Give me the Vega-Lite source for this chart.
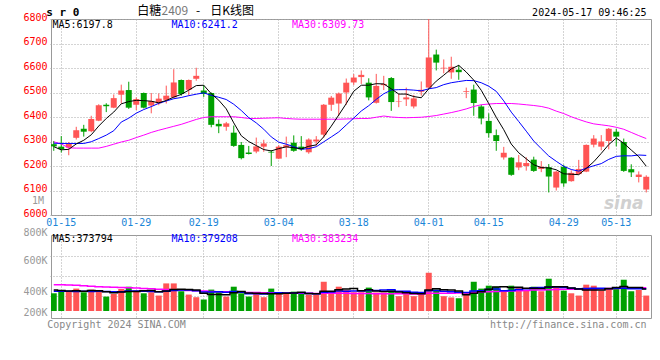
{
  "$schema": "https://vega.github.io/schema/vega-lite/v6.json",
  "background": "white",
  "padding": {"left": 22, "top": 4, "right": 0, "bottom": 0},
  "config": {
    "view": {"stroke": "#999999", "strokeWidth": 1},
    "text": {"font": "DejaVu Sans Mono", "fontSize": 10, "baseline": "middle"}
  },
  "datasets": {
    "k": [
      {"d":"2024-01-12","o":6289,"c":6280,"h":6302,"l":6262,"v":340000,"m5":6279,"m10":6293,"m30":6299,"vm5":366000,"vm10":356000,"vm30":408000},
      {"d":"2024-01-15","o":6279,"c":6269,"h":6322,"l":6255,"v":361000,"m5":6266,"m10":6292,"m30":6290,"vm5":362000,"vm10":357000,"vm30":408000},
      {"d":"2024-01-16","o":6275,"c":6290,"h":6298,"l":6244,"v":356000,"m5":6268,"m10":6292,"m30":6274,"vm5":358000,"vm10":356000,"vm30":406000},
      {"d":"2024-01-17","o":6315,"c":6346,"h":6360,"l":6308,"v":377000,"m5":6290,"m10":6292,"m30":6273,"vm5":360000,"vm10":355000,"vm30":404000},
      {"d":"2024-01-18","o":6352,"c":6340,"h":6368,"l":6320,"v":348000,"m5":6305,"m10":6292,"m30":6273,"vm5":356000,"vm10":356000,"vm30":400000},
      {"d":"2024-01-19","o":6342,"c":6392,"h":6405,"l":6338,"v":369000,"m5":6327.4,"m10":6299,"m30":6273,"vm5":362000,"vm10":355000,"vm30":396000},
      {"d":"2024-01-22","o":6385,"c":6448,"h":6452,"l":6383,"v":356000,"m5":6363.2,"m10":6312,"m30":6273,"vm5":361000,"vm10":356000,"vm30":392000},
      {"d":"2024-01-23","o":6450,"c":6444,"h":6456,"l":6420,"v":314000,"m5":6394,"m10":6326,"m30":6280,"vm5":353000,"vm10":355000,"vm30":389000},
      {"d":"2024-01-24","o":6438,"c":6477,"h":6492,"l":6436,"v":335000,"m5":6420.2,"m10":6344,"m30":6289,"vm5":344000,"vm10":353000,"vm30":387000},
      {"d":"2024-01-25","o":6491,"c":6508,"h":6532,"l":6455,"v":374000,"m5":6453.8,"m10":6379.4,"m30":6298,"vm5":350000,"vm10":353000,"vm30":386000},
      {"d":"2024-01-26","o":6510,"c":6438,"h":6544,"l":6433,"v":392000,"m5":6463,"m10":6395.2,"m30":6305,"vm5":354000,"vm10":358000,"vm30":384000},
      {"d":"2024-01-29","o":6450,"c":6473,"h":6480,"l":6428,"v":361000,"m5":6468,"m10":6415.6,"m30":6316,"vm5":355000,"vm10":358000,"vm30":381000},
      {"d":"2024-01-30","o":6498,"c":6438,"h":6500,"l":6435,"v":340000,"m5":6466.8,"m10":6430.4,"m30":6326,"vm5":360000,"vm10":357000,"vm30":378000},
      {"d":"2024-01-31","o":6447,"c":6465,"h":6498,"l":6415,"v":348000,"m5":6464.4,"m10":6442.3,"m30":6337,"vm5":363000,"vm10":354000,"vm30":375000},
      {"d":"2024-02-01","o":6456,"c":6475,"h":6496,"l":6448,"v":322000,"m5":6457.8,"m10":6455.8,"m30":6346,"vm5":353000,"vm10":352000,"vm30":372000},
      {"d":"2024-02-02","o":6470,"c":6487,"h":6528,"l":6455,"v":418000,"m5":6467.6,"m10":6465.3,"m30":6354,"vm5":358000,"vm10":356000,"vm30":369000},
      {"d":"2024-02-05","o":6480,"c":6541,"h":6595,"l":6476,"v":418000,"m5":6481.2,"m10":6474.6,"m30":6362,"vm5":369000,"vm10":362000,"vm30":367000},
      {"d":"2024-02-06","o":6551,"c":6494,"h":6553,"l":6487,"v":356000,"m5":6492.4,"m10":6479.6,"m30":6370,"vm5":372000,"vm10":366000,"vm30":365000},
      {"d":"2024-02-07","o":6511,"c":6551,"h":6553,"l":6487,"v":330000,"m5":6509.6,"m10":6487,"m30":6380,"vm5":369000,"vm10":366000,"vm30":363000},
      {"d":"2024-02-08","o":6556,"c":6568,"h":6601,"l":6548,"v":309000,"m5":6528.2,"m10":6493,"m30":6390,"vm5":366000,"vm10":360000,"vm30":361000},
      {"d":"2024-02-19","o":6508,"c":6494,"h":6530,"l":6482,"v":291000,"m5":6529.6,"m10":6498.6,"m30":6398,"vm5":341000,"vm10":350000,"vm30":358000},
      {"d":"2024-02-20","o":6498,"c":6368,"h":6500,"l":6358,"v":369000,"m5":6495,"m10":6488.1,"m30":6401,"vm5":331000,"vm10":350000,"vm30":355000},
      {"d":"2024-02-21","o":6372,"c":6362,"h":6390,"l":6334,"v":356000,"m5":6468.6,"m10":6480.5,"m30":6401,"vm5":331000,"vm10":352000,"vm30":353000},
      {"d":"2024-02-22","o":6360,"c":6374,"h":6380,"l":6344,"v":314000,"m5":6433.2,"m10":6471.4,"m30":6401,"vm5":328000,"vm10":349000,"vm30":352000},
      {"d":"2024-02-23","o":6336,"c":6282,"h":6365,"l":6278,"v":392000,"m5":6376,"m10":6452.1,"m30":6401,"vm5":344000,"vm10":355000,"vm30":350000},
      {"d":"2024-02-26","o":6286,"c":6232,"h":6298,"l":6227,"v":340000,"m5":6323.6,"m10":6426.6,"m30":6398,"vm5":354000,"vm10":348000,"vm30":348000},
      {"d":"2024-02-27","o":6255,"c":6249,"h":6282,"l":6247,"v":314000,"m5":6299.8,"m10":6397.4,"m30":6394,"vm5":343000,"vm10":337000,"vm30":347000},
      {"d":"2024-02-28","o":6259,"c":6280,"h":6316,"l":6252,"v":340000,"m5":6283.4,"m10":6376,"m30":6394,"vm5":340000,"vm10":336000,"vm30":346000},
      {"d":"2024-02-29","o":6279,"c":6292,"h":6307,"l":6258,"v":309000,"m5":6267,"m10":6350.1,"m30":6395,"vm5":339000,"vm10":334000,"vm30":345000},
      {"d":"2024-03-01","o":6258,"c":6255,"h":6265,"l":6200,"v":377000,"m5":6261.6,"m10":6318.8,"m30":6396,"vm5":336000,"vm10":340000,"vm30":344000},
      {"d":"2024-03-04","o":6230,"c":6279,"h":6285,"l":6228,"v":340000,"m5":6271,"m10":6297.3,"m30":6397,"vm5":336000,"vm10":345000,"vm30":343000},
      {"d":"2024-03-05","o":6276,"c":6285,"h":6320,"l":6236,"v":335000,"m5":6278.2,"m10":6289,"m30":6394,"vm5":340000,"vm10":342000,"vm30":342000},
      {"d":"2024-03-06","o":6295,"c":6262,"h":6325,"l":6258,"v":353000,"m5":6274.6,"m10":6279,"m30":6392,"vm5":343000,"vm10":342000,"vm30":341000},
      {"d":"2024-03-07","o":6279,"c":6268,"h":6322,"l":6262,"v":335000,"m5":6269.8,"m10":6268.4,"m30":6391,"vm5":348000,"vm10":344000,"vm30":340000},
      {"d":"2024-03-08","o":6256,"c":6308,"h":6313,"l":6250,"v":330000,"m5":6280.4,"m10":6271,"m30":6391,"vm5":339000,"vm10":338000,"vm30":340000},
      {"d":"2024-03-11","o":6300,"c":6308,"h":6322,"l":6282,"v":330000,"m5":6286.2,"m10":6278.6,"m30":6391,"vm5":337000,"vm10":337000,"vm30":339000},
      {"d":"2024-03-12","o":6328,"c":6450,"h":6453,"l":6316,"v":431000,"m5":6319.2,"m10":6298.7,"m30":6391,"vm5":356000,"vm10":348000,"vm30":340000},
      {"d":"2024-03-13","o":6450,"c":6479,"h":6486,"l":6425,"v":353000,"m5":6362.6,"m10":6318.6,"m30":6391,"vm5":356000,"vm10":350000,"vm30":340000},
      {"d":"2024-03-14","o":6455,"c":6496,"h":6500,"l":6405,"v":392000,"m5":6408.2,"m10":6339,"m30":6391,"vm5":367000,"vm10":358000,"vm30":340000},
      {"d":"2024-03-15","o":6500,"c":6540,"h":6557,"l":6450,"v":366000,"m5":6454.6,"m10":6367.5,"m30":6392,"vm5":374000,"vm10":357000,"vm30":340000},
      {"d":"2024-03-18","o":6541,"c":6561,"h":6575,"l":6530,"v":348000,"m5":6505.2,"m10":6395.7,"m30":6393,"vm5":378000,"vm10":358000,"vm30":339000},
      {"d":"2024-03-19","o":6563,"c":6572,"h":6590,"l":6535,"v":348000,"m5":6529.6,"m10":6424.4,"m30":6394,"vm5":361000,"vm10":359000,"vm30":339000},
      {"d":"2024-03-20","o":6540,"c":6480,"h":6558,"l":6468,"v":385000,"m5":6529.8,"m10":6446.2,"m30":6394,"vm5":368000,"vm10":362000,"vm30":338000},
      {"d":"2024-03-21","o":6458,"c":6527,"h":6576,"l":6455,"v":346000,"m5":6536,"m10":6472.1,"m30":6399,"vm5":359000,"vm10":363000,"vm30":337000},
      {"d":"2024-03-22","o":6530,"c":6535,"h":6568,"l":6510,"v":346000,"m5":6535,"m10":6494.8,"m30":6404,"vm5":355000,"vm10":365000,"vm30":337000},
      {"d":"2024-03-25","o":6559,"c":6461,"h":6563,"l":6425,"v":361000,"m5":6515,"m10":6510.1,"m30":6400,"vm5":357000,"vm10":368000,"vm30":336000},
      {"d":"2024-03-26","o":6463,"c":6465,"h":6495,"l":6440,"v":317000,"m5":6493.6,"m10":6511.6,"m30":6398,"vm5":351000,"vm10":356000,"vm30":336000},
      {"d":"2024-03-27","o":6472,"c":6480,"h":6520,"l":6445,"v":353000,"m5":6493.6,"m10":6511.7,"m30":6397,"vm5":345000,"vm10":357000,"vm30":336000},
      {"d":"2024-03-28","o":6443,"c":6476,"h":6490,"l":6435,"v":317000,"m5":6483.4,"m10":6509.7,"m30":6398,"vm5":339000,"vm10":349000,"vm30":335000},
      {"d":"2024-03-29","o":6503,"c":6511,"h":6545,"l":6487,"v":335000,"m5":6478.6,"m10":6506.8,"m30":6399,"vm5":337000,"vm10":346000,"vm30":335000},
      {"d":"2024-04-01","o":6520,"c":6643,"h":6820,"l":6515,"v":502000,"m5":6515,"m10":6515,"m30":6402,"vm5":365000,"vm10":361000,"vm30":340000},
      {"d":"2024-04-02","o":6655,"c":6622,"h":6675,"l":6590,"v":369000,"m5":6546.4,"m10":6520,"m30":6406,"vm5":375000,"vm10":363000,"vm30":341000},
      {"d":"2024-04-03","o":6598,"c":6601,"h":6635,"l":6578,"v":317000,"m5":6570.6,"m10":6532.1,"m30":6412,"vm5":368000,"vm10":357000,"vm30":341000},
      {"d":"2024-04-08","o":6582,"c":6605,"h":6646,"l":6556,"v":307000,"m5":6596.4,"m10":6539.9,"m30":6418,"vm5":366000,"vm10":353000,"vm30":341000},
      {"d":"2024-04-09","o":6593,"c":6583,"h":6612,"l":6552,"v":301000,"m5":6610.8,"m10":6544.7,"m30":6425,"vm5":359000,"vm10":348000,"vm30":342000},
      {"d":"2024-04-10","o":6503,"c":6506,"h":6520,"l":6477,"v":346000,"m5":6583.4,"m10":6549.2,"m30":6433,"vm5":328000,"vm10":347000,"vm30":345000},
      {"d":"2024-04-11","o":6512,"c":6457,"h":6532,"l":6405,"v":431000,"m5":6550.4,"m10":6548.4,"m30":6443,"vm5":340000,"vm10":358000,"vm30":349000},
      {"d":"2024-04-12","o":6443,"c":6394,"h":6450,"l":6370,"v":377000,"m5":6509,"m10":6539.8,"m30":6450,"vm5":352000,"vm10":360000,"vm30":350000},
      {"d":"2024-04-15","o":6384,"c":6334,"h":6415,"l":6316,"v":400000,"m5":6454.8,"m10":6525.6,"m30":6453,"vm5":371000,"vm10":369000,"vm30":352000},
      {"d":"2024-04-16","o":6326,"c":6302,"h":6349,"l":6262,"v":392000,"m5":6398.6,"m10":6504.7,"m30":6455,"vm5":389000,"vm10":374000,"vm30":354000},
      {"d":"2024-04-17","o":6235,"c":6254,"h":6278,"l":6226,"v":361000,"m5":6348.2,"m10":6465.8,"m30":6455,"vm5":392000,"vm10":360000,"vm30":356000},
      {"d":"2024-04-18","o":6234,"c":6164,"h":6236,"l":6160,"v":400000,"m5":6289.6,"m10":6420,"m30":6455,"vm5":386000,"vm10":363000,"vm30":358000},
      {"d":"2024-04-19","o":6194,"c":6215,"h":6245,"l":6183,"v":382000,"m5":6253.8,"m10":6381.4,"m30":6453,"vm5":387000,"vm10":370000,"vm30":360000},
      {"d":"2024-04-22","o":6200,"c":6212,"h":6236,"l":6181,"v":361000,"m5":6229.4,"m10":6342.1,"m30":6450,"vm5":379000,"vm10":375000,"vm30":362000},
      {"d":"2024-04-23","o":6226,"c":6180,"h":6238,"l":6176,"v":392000,"m5":6205,"m10":6301.8,"m30":6447,"vm5":379000,"vm10":384000,"vm30":365000},
      {"d":"2024-04-24","o":6188,"c":6197,"h":6220,"l":6175,"v":356000,"m5":6193.6,"m10":6270.9,"m30":6443,"vm5":378000,"vm10":385000,"vm30":366000},
      {"d":"2024-04-25","o":6195,"c":6157,"h":6208,"l":6092,"v":455000,"m5":6192.2,"m10":6240.9,"m30":6436,"vm5":389000,"vm10":388000,"vm30":368000},
      {"d":"2024-04-26","o":6112,"c":6177,"h":6180,"l":6100,"v":392000,"m5":6184.6,"m10":6219.2,"m30":6424,"vm5":391000,"vm10":389000,"vm30":370000},
      {"d":"2024-04-29","o":6197,"c":6129,"h":6205,"l":6115,"v":361000,"m5":6168,"m10":6198.7,"m30":6414,"vm5":391000,"vm10":385000,"vm30":371000},
      {"d":"2024-04-30","o":6138,"c":6172,"h":6182,"l":6136,"v":340000,"m5":6166.4,"m10":6185.7,"m30":6401,"vm5":381000,"vm10":380000,"vm30":372000},
      {"d":"2024-05-06","o":6167,"c":6188,"h":6225,"l":6165,"v":322000,"m5":6164.6,"m10":6179.1,"m30":6390,"vm5":374000,"vm10":376000,"vm30":372000},
      {"d":"2024-05-07","o":6177,"c":6286,"h":6288,"l":6175,"v":408000,"m5":6190.4,"m10":6191.3,"m30":6380,"vm5":365000,"vm10":377000,"vm30":373000},
      {"d":"2024-05-08","o":6287,"c":6312,"h":6326,"l":6276,"v":400000,"m5":6217.4,"m10":6201,"m30":6372,"vm5":366000,"vm10":379000,"vm30":374000},
      {"d":"2024-05-09","o":6279,"c":6300,"h":6326,"l":6264,"v":361000,"m5":6251.6,"m10":6209.8,"m30":6368,"vm5":366000,"vm10":379000,"vm30":375000},
      {"d":"2024-05-10","o":6302,"c":6352,"h":6355,"l":6268,"v":385000,"m5":6287.6,"m10":6227,"m30":6364,"vm5":375000,"vm10":378000,"vm30":376000},
      {"d":"2024-05-13","o":6340,"c":6320,"h":6352,"l":6280,"v":377000,"m5":6314,"m10":6239.3,"m30":6358,"vm5":386000,"vm10":380000,"vm30":377000},
      {"d":"2024-05-14","o":6298,"c":6180,"h":6312,"l":6176,"v":447000,"m5":6292.8,"m10":6241.6,"m30":6350,"vm5":394000,"vm10":380000,"vm30":379000},
      {"d":"2024-05-15","o":6187,"c":6174,"h":6207,"l":6155,"v":356000,"m5":6265.2,"m10":6241.3,"m30":6337,"vm5":385000,"vm10":376000,"vm30":380000},
      {"d":"2024-05-16","o":6155,"c":6165,"h":6178,"l":6133,"v":366000,"m5":6238.2,"m10":6244.9,"m30":6324,"vm5":386000,"vm10":376000,"vm30":382000},
      {"d":"2024-05-17","o":6104,"c":6156,"h":6162,"l":6092,"v":322000,"m5":6199,"m10":6243.3,"m30":6312,"vm5":374000,"vm10":375000,"vm30":383000}
    ]
  },
  "vconcat": [
    {
      "width": 600,
      "height": 196,
      "data": {"name": "k"},
      "resolve": {"axis": {"x": "independent", "y": "independent"}},
      "layer": [
        {
          "mark": {"type": "rule", "clip": true, "strokeWidth": 1},
          "encoding": {
            "x": {
              "field": "d", "type": "ordinal",
              "scale": {"type": "band", "range": [-1, 599], "paddingInner": 0, "paddingOuter": 0},
              "axis": {
                "values": ["2024-01-15","2024-01-29","2024-02-19","2024-03-04","2024-03-18","2024-04-01","2024-04-15","2024-04-29","2024-05-13"],
                "labelExpr": "substring(datum.value, 5)",
                "title": null, "ticks": false, "domain": false,
                "grid": true, "gridColor": "#a8a8a8", "gridDash": [1, 2], "gridWidth": 1, "bandPosition": 0.5,
                "labelColor": "#1a86d8", "labelFont": "DejaVu Sans Mono", "labelFontSize": 10,
                "labelPadding": 2, "labelAngle": 0, "labelOverlap": false
              }
            },
            "y": {
              "field": "l", "type": "quantitative",
              "scale": {"domain": [6000, 6800], "zero": false, "nice": false},
              "axis": {
                "values": [6000, 6100, 6200, 6300, 6400, 6500, 6600, 6700, 6800],
                "format": "d",
                "title": null, "ticks": false, "domain": false,
                "grid": true, "gridColor": "#a8a8a8", "gridDash": [1, 2], "gridWidth": 1,
                "labelColor": "#ff0000", "labelFont": "DejaVu Sans Mono", "labelFontSize": 10,
                "labelPadding": 4, "labelOffset": -2, "labelOverlap": false
              }
            },
            "y2": {"field": "h"},
            "color": {"condition": {"test": "datum.c >= datum.o", "value": "#ff5555"}, "value": "#00a000"}
          }
        },
        {
          "mark": {"type": "bar", "clip": true, "size": 6},
          "encoding": {
            "x": {"field": "d", "type": "ordinal", "axis": null},
            "y": {"field": "o", "type": "quantitative", "axis": null},
            "y2": {"field": "c"},
            "color": {"condition": {"test": "datum.c >= datum.o", "value": "#ff5555"}, "value": "#00a000"}
          }
        },
        {
          "mark": {"type": "line", "clip": true, "color": "#ff00ff", "strokeWidth": 1},
          "encoding": {"x": {"field": "d", "type": "ordinal", "axis": null}, "y": {"field": "m30", "type": "quantitative", "axis": null}}
        },
        {
          "mark": {"type": "line", "clip": true, "color": "#0000ff", "strokeWidth": 1},
          "encoding": {"x": {"field": "d", "type": "ordinal", "axis": null}, "y": {"field": "m10", "type": "quantitative", "axis": null}}
        },
        {
          "mark": {"type": "line", "clip": true, "color": "#000000", "strokeWidth": 1},
          "encoding": {"x": {"field": "d", "type": "ordinal", "axis": null}, "y": {"field": "m5", "type": "quantitative", "axis": null}}
        },
        {
          "data": {"values": [{}]},
          "mark": {"type": "text", "align": "left", "color": "#000000"},
          "encoding": {"x": {"datum": "2024-01-12", "axis": null}, "y": {"datum": 6775.5, "axis": null}, "xOffset": {"value": 2.5}, "text": {"value": "MA5:6197.8"}}
        },
        {
          "data": {"values": [{}]},
          "mark": {"type": "text", "align": "left", "color": "#0000ff"},
          "encoding": {"x": {"datum": "2024-02-05", "axis": null}, "y": {"datum": 6775.5, "axis": null}, "xOffset": {"value": 1.5}, "text": {"value": "MA10:6241.2"}}
        },
        {
          "data": {"values": [{}]},
          "mark": {"type": "text", "align": "left", "color": "#ff00ff"},
          "encoding": {"x": {"datum": "2024-03-06", "axis": null}, "y": {"datum": 6775.5, "axis": null}, "xOffset": {"value": 2}, "text": {"value": "MA30:6309.73"}}
        },
        {
          "data": {"values": [{}]},
          "mark": {"type": "text", "align": "left", "color": "#000000", "fontSize": 11, "fontWeight": "bold"},
          "encoding": {"x": {"datum": "2024-01-12", "axis": null}, "y": {"datum": 6825, "axis": null}, "xOffset": {"value": -3.75}, "text": {"value": "s r 0"}}
        },
        {
          "data": {"values": [{}]},
          "mark": {"type": "text", "align": "left", "color": "#000000", "font": "Noto Sans CJK SC", "fontSize": 12},
          "encoding": {"x": {"datum": "2024-01-30", "axis": null}, "y": {"datum": 6833, "axis": null}, "xOffset": {"value": -2.75}, "text": {"value": "白糖"}}
        },
        {
          "data": {"values": [{}]},
          "mark": {"type": "text", "align": "left", "color": "#777777", "font": "Noto Sans CJK SC", "fontSize": 12},
          "encoding": {"x": {"datum": "2024-02-02", "axis": null}, "y": {"datum": 6833, "axis": null}, "xOffset": {"value": -1}, "text": {"value": "2409"}}
        },
        {
          "data": {"values": [{}]},
          "mark": {"type": "text", "align": "left", "color": "#000000", "font": "Noto Sans CJK SC", "fontSize": 12},
          "encoding": {"x": {"datum": "2024-02-19", "axis": null}, "y": {"datum": 6833, "axis": null}, "xOffset": {"value": -4}, "text": {"value": "-"}}
        },
        {
          "data": {"values": [{}]},
          "mark": {"type": "text", "align": "left", "color": "#000000", "font": "Noto Sans CJK SC", "fontSize": 12},
          "encoding": {"x": {"datum": "2024-02-20", "axis": null}, "y": {"datum": 6833, "axis": null}, "xOffset": {"value": 2.75}, "text": {"value": "日K线图"}}
        },
        {
          "data": {"values": [{}]},
          "mark": {"type": "text", "align": "right", "color": "#000000"},
          "encoding": {"x": {"datum": "2024-05-17", "axis": null}, "y": {"datum": 6826, "axis": null}, "xOffset": {"value": 4}, "text": {"value": "2024-05-17 09:46:25"}}
        },
        {
          "data": {"values": [{}]},
          "mark": {"type": "text", "align": "right", "color": "#999999"},
          "encoding": {"x": {"datum": "2024-01-12", "axis": null}, "y": {"datum": 6057, "axis": null}, "xOffset": {"value": -6}, "text": {"value": "1M"}}
        },
        {
          "data": {"values": [{}]},
          "mark": {"type": "text", "align": "center", "color": "#d0d0d0", "font": "DejaVu Sans", "fontSize": 17, "fontStyle": "italic", "fontWeight": "bold"},
          "encoding": {"x": {"datum": "2024-05-14", "axis": null}, "y": {"datum": 6045, "axis": null}, "text": {"value": "sina"}}
        }
      ]
    },
    {
      "width": 600,
      "height": 83,
      "data": {"name": "k"},
      "resolve": {"axis": {"x": "independent", "y": "independent"}},
      "layer": [
        {
          "mark": {"type": "bar", "clip": true, "size": 6},
          "encoding": {
            "x": {
              "field": "d", "type": "ordinal",
              "scale": {"type": "band", "range": [-1, 599], "paddingInner": 0, "paddingOuter": 0},
              "axis": {
                "values": ["2024-01-15","2024-01-29","2024-02-19","2024-03-04","2024-03-18","2024-04-01","2024-04-15","2024-04-29","2024-05-13"],
                "labels": false, "title": null, "ticks": false, "domain": false,
                "grid": true, "gridColor": "#a8a8a8", "gridDash": [1, 2], "gridWidth": 1, "bandPosition": 0.5
              }
            },
            "y": {
              "field": "v", "type": "quantitative",
              "scale": {"domain": [145000, 800000], "zero": false, "nice": false},
              "axis": {
                "values": [200000, 320000, 400000, 477000, 600000, 635000, 800000],
                "labelExpr": "datum.value % 200000 === 0 ? (datum.value / 1000) + 'K' : ''",
                "title": null, "ticks": false, "domain": false,
                "grid": true, "gridColor": "#a8a8a8", "gridDash": [1, 2], "gridWidth": 1,
                "gridOpacity": {"condition": {"test": "datum.value % 200000 === 0", "value": 0}, "value": 1},
                "labelOffset": {"condition": [{"test": "datum.value === 800000", "value": -3}, {"test": "datum.value === 400000", "value": 6}, {"test": "datum.value === 200000", "value": 1}], "value": 0},
                "labelColor": "#999999", "labelFont": "DejaVu Sans Mono", "labelFontSize": 10,
                "labelPadding": 4, "labelOverlap": false
              }
            },
            "y2": {"datum": 200000},
            "color": {"condition": {"test": "datum.c >= datum.o", "value": "#ff5555"}, "value": "#00a000"}
          }
        },
        {
          "mark": {"type": "line", "clip": true, "color": "#ff00ff", "strokeWidth": 1.5, "interpolate": "step"},
          "encoding": {"x": {"field": "d", "type": "ordinal", "axis": null}, "y": {"field": "vm30", "type": "quantitative", "axis": null}}
        },
        {
          "mark": {"type": "line", "clip": true, "color": "#0000ff", "strokeWidth": 1.5, "interpolate": "step"},
          "encoding": {"x": {"field": "d", "type": "ordinal", "axis": null}, "y": {"field": "vm10", "type": "quantitative", "axis": null}}
        },
        {
          "mark": {"type": "line", "clip": true, "color": "#000000", "strokeWidth": 1.5, "interpolate": "step"},
          "encoding": {"x": {"field": "d", "type": "ordinal", "axis": null}, "y": {"field": "vm5", "type": "quantitative", "axis": null}}
        },
        {
          "data": {"values": [{}]},
          "mark": {"type": "text", "align": "left", "color": "#000000"},
          "encoding": {"x": {"datum": "2024-01-12", "axis": null}, "y": {"datum": 766000, "axis": null}, "xOffset": {"value": 2.5}, "text": {"value": "MA5:373794"}}
        },
        {
          "data": {"values": [{}]},
          "mark": {"type": "text", "align": "left", "color": "#0000ff"},
          "encoding": {"x": {"datum": "2024-02-05", "axis": null}, "y": {"datum": 766000, "axis": null}, "xOffset": {"value": 1.5}, "text": {"value": "MA10:379208"}}
        },
        {
          "data": {"values": [{}]},
          "mark": {"type": "text", "align": "left", "color": "#ff00ff"},
          "encoding": {"x": {"datum": "2024-03-06", "axis": null}, "y": {"datum": 766000, "axis": null}, "xOffset": {"value": 2}, "text": {"value": "MA30:383234"}}
        },
        {
          "data": {"values": [{}]},
          "mark": {"type": "text", "align": "left", "color": "#888888"},
          "encoding": {"x": {"datum": "2024-01-12", "axis": null}, "y": {"datum": 90000, "axis": null}, "xOffset": {"value": -2.75}, "text": {"value": "Copyright 2024 SINA.COM"}}
        },
        {
          "data": {"values": [{}]},
          "mark": {"type": "text", "align": "right", "color": "#888888"},
          "encoding": {"x": {"datum": "2024-05-17", "axis": null}, "y": {"datum": 90000, "axis": null}, "xOffset": {"value": 4}, "text": {"value": "http://finance.sina.com.cn"}}
        }
      ]
    }
  ],
  "spacing": 20,
  "bounds": "flush",
  "resolve": {"scale": {"x": "independent", "y": "independent"}}
}
